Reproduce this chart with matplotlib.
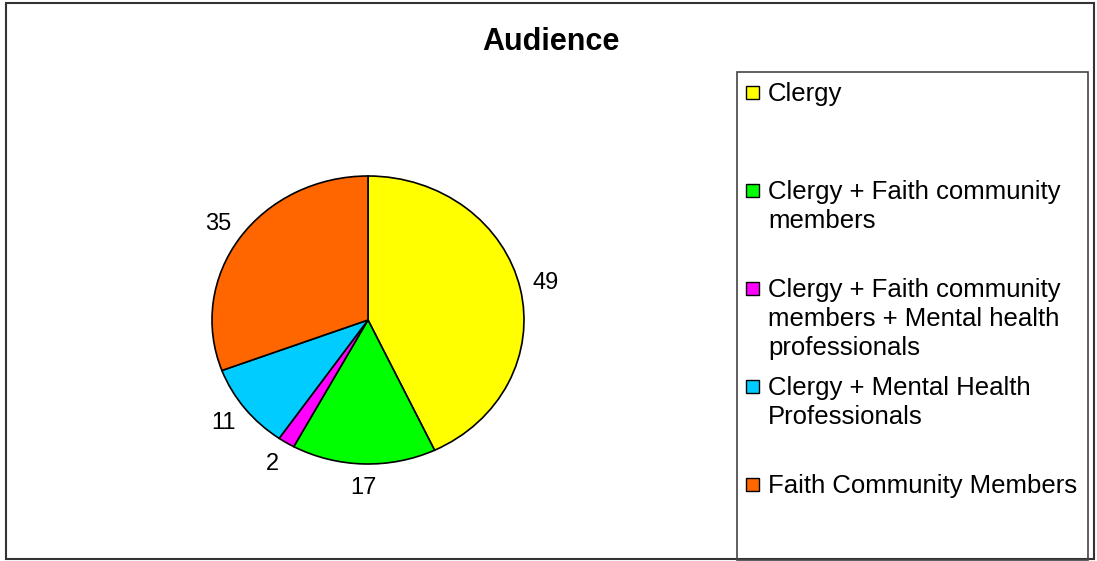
import matplotlib
matplotlib.use("Agg")
from matplotlib import pyplot as plt
from matplotlib.patches import Rectangle
import numpy as np

plt.rcParams['font.family'] = ['Liberation Sans', 'DejaVu Sans']

# dados do gráfico
categorias = ['Clergy',
              'Clergy + Faith community\nmembers',
              'Clergy + Faith community\nmembers + Mental health\nprofessionals',
              'Clergy + Mental Health\nProfessionals',
              'Faith Community Members']
valores = [49, 17, 2, 11, 35]
cores = ['#FFFF00', '#00FF00', '#FF00FF', '#00CCFF', '#FF6600']

W, H = 1097, 561
fig = plt.figure(figsize=(W / 100, H / 100), dpi=100)


def fx(px):
    return px / W


def fy(py):
    return 1 - py / H


# borda externa do gráfico
fig.patches.append(Rectangle((fx(6), fy(559)), fx(1094) - fx(6), fy(3) - fy(559),
                             transform=fig.transFigure, fill=False,
                             edgecolor='#333333', linewidth=1.5))

fig.text(fx(551), fy(42), 'Audience', ha='center', va='center',
         fontsize=22, fontweight='bold')

# pizza (levemente achatada como no original)
cx, cy, rx, ry = 368, 320, 156, 144
ax = fig.add_axes([fx(cx - rx), fy(cy + ry), (2 * rx) / W, (2 * ry) / H])
fatias, _ = ax.pie(valores, colors=cores, startangle=90, counterclock=False,
                   wedgeprops={'edgecolor': 'black', 'linewidth': 1.2})
ax.set_aspect('auto')
ax.set_xlim(-1, 1)
ax.set_ylim(-1, 1)
ax.axis('off')

for fatia, v in zip(fatias, valores):
    ang = np.deg2rad((fatia.theta1 + fatia.theta2) / 2)
    ax.text(1.17 * np.cos(ang), 1.17 * np.sin(ang), str(v),
            ha='center', va='center', fontsize=17, clip_on=False)

# legenda desenhada à mão
fig.patches.append(Rectangle((fx(737), fy(560)), fx(1088) - fx(737), fy(72) - fy(560),
                             transform=fig.transFigure, fill=False,
                             edgecolor='#444444', linewidth=1.2))
for i, (nome, cor) in enumerate(zip(categorias, cores)):
    y0 = 92 + 98 * i
    fig.patches.append(Rectangle((fx(746), fy(y0 + 7)), 13 / W, 13 / H,
                                 transform=fig.transFigure, facecolor=cor,
                                 edgecolor='black', linewidth=1.0))
    fig.text(fx(768), fy(y0 - 10), nome, ha='left', va='top',
             fontsize=18.5, linespacing=1.25)

plt.savefig('out.png', dpi=100)
